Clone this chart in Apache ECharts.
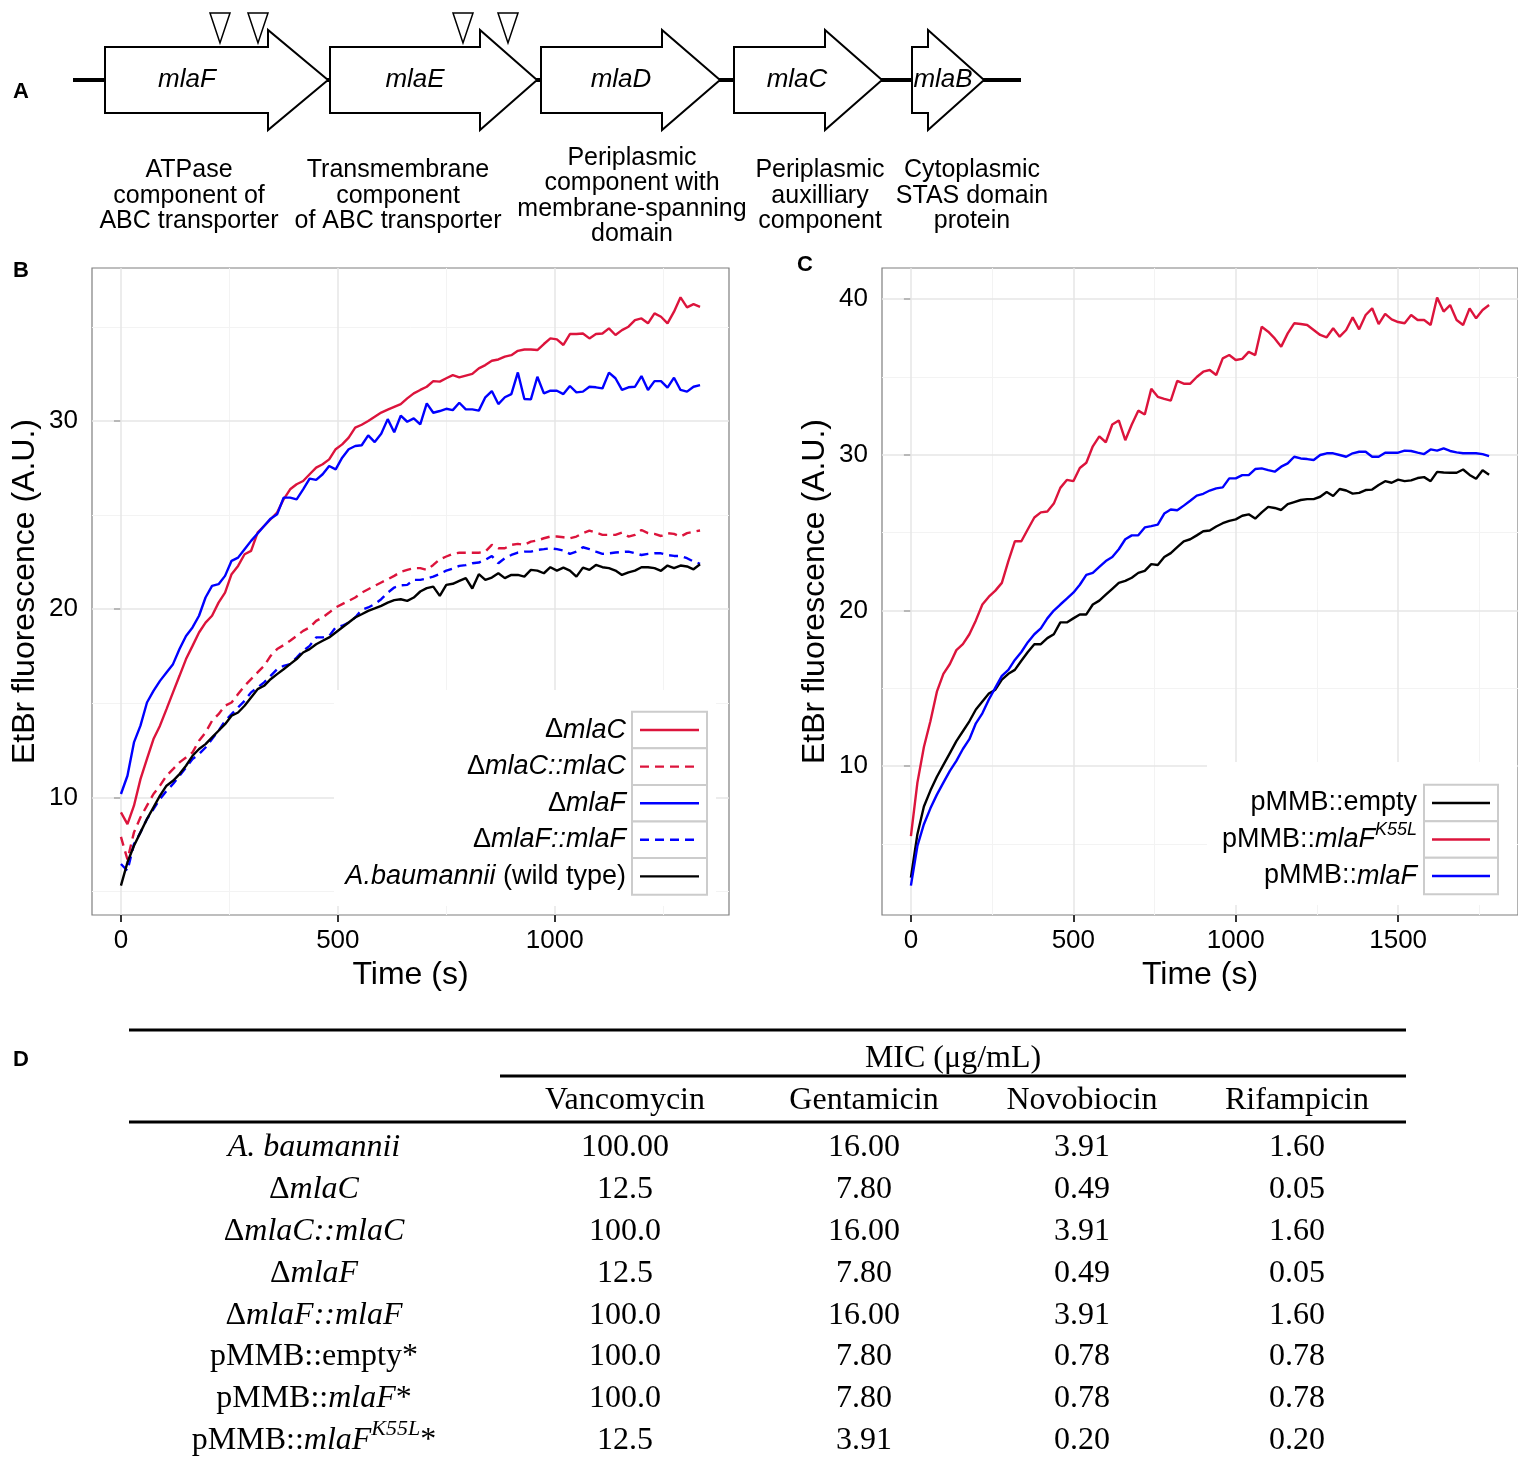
<!DOCTYPE html>
<html>
<head>
<meta charset="utf-8">
<title>mla operon - EtBr accumulation and MIC</title>
<script src="https://cdn.jsdelivr.net/npm/echarts@6/dist/echarts.min.js"></script>
<style>
  html, body { margin: 0; padding: 0; background: #fff; }
  #chart { width: 1518px; height: 1459px; }
</style>
</head>
<body>
<div id="chart"></div>
<script>
// ---------- panel B : deletion mutants (time in s, EtBr fluorescence in A.U.) ----------
const timeB = [0,15,30,45,60,75,90,105,120,135,150,165,180,195,210,225,240,255,270,285,
  300,315,330,345,360,375,390,405,420,435,450,465,480,495,510,525,540,555,570,585,
  600,615,630,645,660,675,690,705,720,735,750,765,780,795,810,825,840,855,870,885,
  900,915,930,945,960,975,990,1005,1020,1035,1050,1065,1080,1095,1110,1125,1140,1155,1170,1185,
  1200,1215,1230,1245,1260,1275,1290,1305,1320,1335];

const mlaC_B = [9.20,8.58,9.56,10.97,12.04,13.10,13.81,14.69,15.58,16.46,
  17.35,18.05,18.76,19.29,19.65,20.35,20.88,21.86,22.30,22.92,
  23.10,24.07,24.42,24.78,25.13,25.84,26.37,26.64,26.81,27.17,
  27.52,27.70,27.96,28.50,28.76,29.12,29.65,29.80,30.00,30.23,
  30.45,30.60,30.75,30.90,31.20,31.47,31.65,31.82,32.12,32.09,
  32.27,32.44,32.32,32.41,32.50,32.80,32.97,33.20,33.27,33.42,
  33.50,33.73,33.80,33.80,33.77,34.09,34.39,34.34,34.04,34.62,
  34.62,34.65,34.39,34.62,34.65,34.92,34.57,34.83,35.01,35.36,
  35.45,35.19,35.72,35.54,35.19,35.81,36.57,36.04,36.21,36.07];

const mlaCcomp_B = [7.90,6.70,8.14,8.94,9.56,10.18,10.62,11.15,11.50,11.86,
  12.12,12.39,13.01,13.45,14.07,14.42,14.87,15.04,15.49,15.93,
  16.28,16.64,16.99,17.52,17.88,18.09,18.32,18.58,18.85,19.03,
  19.38,19.56,19.82,20.09,20.27,20.44,20.62,20.88,21.06,21.24,
  21.42,21.59,21.77,21.98,22.09,22.18,22.18,22.09,22.35,22.65,
  22.80,22.94,23.00,23.00,23.00,23.00,23.06,23.42,23.24,23.24,
  23.42,23.47,23.42,23.59,23.65,23.77,23.86,23.86,23.82,23.77,
  23.86,24.04,24.18,24.07,23.95,23.95,23.95,24.07,23.86,23.95,
  24.21,24.04,24.00,23.89,24.04,24.00,23.86,24.04,24.12,24.18];

const mlaF_B = [10.18,11.15,12.92,13.81,15.04,15.66,16.19,16.64,17.08,17.88,
  18.58,19.03,19.65,20.62,21.24,21.33,21.77,22.57,22.74,23.19,
  23.63,24.02,24.42,24.81,25.04,25.93,25.93,25.84,26.37,26.94,
  26.87,27.17,27.61,27.43,28.05,28.50,28.67,28.71,29.24,28.88,
  29.32,30.10,29.40,30.28,29.96,30.14,29.82,30.94,30.44,30.53,
  30.65,30.58,30.97,30.62,30.62,30.55,31.26,31.59,30.90,31.26,
  31.43,32.58,31.17,31.15,32.35,31.47,31.61,31.61,31.43,31.86,
  31.52,31.56,31.82,31.79,31.73,32.57,32.27,31.65,31.79,31.82,
  32.39,31.65,32.12,32.12,31.77,32.30,31.65,31.56,31.82,31.91];

const mlaFcomp_B = [6.46,6.10,7.52,8.14,8.85,9.38,9.91,10.35,10.71,11.15,
  11.59,12.04,12.30,12.65,13.10,13.54,14.07,14.42,14.78,15.13,
  15.58,15.84,16.11,16.46,16.81,16.99,17.08,17.43,17.79,18.05,
  18.50,18.50,18.58,19.03,19.12,19.29,19.56,19.96,20.09,20.27,
  20.53,20.88,21.15,21.27,21.29,21.56,21.56,21.63,21.73,21.88,
  22.05,22.16,22.30,22.34,22.44,22.48,22.62,22.83,22.44,22.71,
  22.88,23.01,23.06,23.06,23.15,23.19,23.24,23.19,23.12,22.94,
  23.06,23.29,23.19,23.06,22.94,22.97,23.01,23.04,23.06,22.97,
  22.88,22.94,22.97,22.97,22.88,22.83,22.83,22.71,22.53,22.41];

const wild_B = [5.31,6.55,7.43,8.14,8.85,9.47,10.09,10.62,10.88,11.24,
  11.68,12.21,12.57,12.83,13.19,13.54,13.89,14.34,14.51,14.87,
  15.31,15.75,15.93,16.28,16.55,16.81,17.08,17.35,17.70,17.88,
  18.14,18.32,18.50,18.76,19.03,19.29,19.56,19.73,19.91,20.04,
  20.18,20.35,20.48,20.53,20.44,20.62,20.94,21.12,21.20,20.71,
  21.29,21.35,21.50,21.65,21.10,21.86,21.56,21.68,21.91,21.65,
  21.82,21.82,21.73,22.09,22.05,21.91,22.23,22.05,22.21,22.05,
  21.73,22.21,22.09,22.35,22.23,22.18,22.05,21.82,21.96,22.05,
  22.23,22.23,22.18,22.04,22.32,22.18,22.32,22.27,22.12,22.39];

// ---------- panel C : plasmid strains ----------
const timeC = [0,20,40,60,80,100,120,140,160,180,200,220,240,260,280,300,320,340,360,380,
  400,420,440,460,480,500,520,540,560,580,600,620,640,660,680,700,720,740,760,780,
  800,820,840,860,880,900,920,940,960,980,1000,1020,1040,1060,1080,1100,1120,1140,1160,1180,
  1200,1220,1240,1260,1280,1300,1320,1340,1360,1380,1400,1420,1440,1460,1480,1500,1520,1540,1560,1580,
  1600,1620,1640,1660,1680,1700,1720,1740,1760,1780];

const empty_C = [2.84,5.63,7.41,8.43,9.32,10.08,10.84,11.61,12.24,12.88,
  13.64,14.15,14.66,14.91,15.55,15.93,16.18,16.77,17.33,17.83,
  17.83,18.22,18.47,19.23,19.23,19.49,19.74,19.74,20.38,20.63,
  21.01,21.39,21.77,21.90,22.10,22.41,22.54,22.97,22.92,23.43,
  23.68,24.06,24.44,24.57,24.82,25.08,25.13,25.39,25.60,25.75,
  25.85,26.08,26.17,25.90,26.30,26.65,26.58,26.45,26.83,26.96,
  27.09,27.15,27.15,27.30,27.60,27.35,27.80,27.70,27.50,27.55,
  27.73,27.76,28.05,28.30,28.20,28.40,28.30,28.35,28.50,28.56,
  28.30,28.90,28.86,28.84,28.84,29.05,28.70,28.45,29.00,28.72];

const k55l_C = [5.51,8.94,11.23,12.88,14.78,15.93,16.56,17.45,17.83,18.47,
  19.36,20.38,20.88,21.27,21.77,23.17,24.44,24.44,25.21,25.97,
  26.30,26.35,26.86,27.87,28.38,28.30,29.15,29.48,30.54,31.18,
  30.80,31.94,32.20,30.93,31.94,32.83,32.58,34.23,33.72,33.59,
  33.47,34.74,34.56,34.56,34.99,35.33,35.44,35.12,36.19,36.40,
  36.08,36.15,36.60,36.40,38.22,37.90,37.47,36.94,37.79,38.44,
  38.39,38.33,38.01,37.69,37.54,38.12,37.58,38.01,38.82,38.05,
  38.97,39.40,38.39,39.04,38.69,38.52,38.44,38.97,38.65,38.65,
  38.33,40.10,39.19,39.61,38.65,38.33,39.40,38.76,39.29,39.61];

const mlaF_C = [2.33,4.87,6.27,7.29,8.17,8.94,9.70,10.34,11.10,11.73,
  12.75,13.39,14.28,15.04,15.80,16.18,16.82,17.33,17.96,18.47,
  18.85,19.49,19.99,20.38,20.76,21.14,21.65,22.28,22.41,22.79,
  23.17,23.43,23.93,24.57,24.82,24.82,25.33,25.41,25.51,26.22,
  26.48,26.43,26.73,27.04,27.37,27.49,27.70,27.84,27.90,28.48,
  28.48,28.69,28.69,29.08,29.12,29.01,28.91,29.23,29.44,29.87,
  29.76,29.72,29.66,29.98,30.09,30.09,29.98,29.87,30.09,30.19,
  30.19,29.87,29.87,30.13,30.13,30.13,30.26,30.24,30.13,30.04,
  30.34,30.26,30.41,30.24,30.15,30.09,30.09,30.09,30.04,29.91];

// axis ticks / grid values
const ticksBx = [0, 500, 1000], minorBx = [250, 750, 1250];
const ticksBy = [10, 20, 30], minorBy = [5, 15, 25, 35];
const ticksCx = [0, 500, 1000, 1500], minorCx = [250, 750, 1250, 1750];
const ticksCy = [10, 20, 30, 40], minorCy = [5, 15, 25, 35];

// ---------- panel A : operon ----------
const geneNames = ['mlaF', 'mlaE', 'mlaD', 'mlaC', 'mlaB'];
const geneDesc = [
  ['ATPase', 'component of', 'ABC transporter'],
  ['Transmembrane', 'component', 'of ABC transporter'],
  ['Periplasmic', 'component with', 'membrane-spanning', 'domain'],
  ['Periplasmic', 'auxilliary', 'component'],
  ['Cytoplasmic', 'STAS domain', 'protein']
];

// ---------- panel D : MIC table ----------
const micDrugs = ['Vancomycin', 'Gentamicin', 'Novobiocin', 'Rifampicin'];
const micStrains = ['_A. baumannii_', 'Δ_mlaC_', 'Δ_mlaC::mlaC_', 'Δ_mlaF_', 'Δ_mlaF::mlaF_',
  'pMMB::empty*', 'pMMB::_mlaF_*', 'pMMB::_mlaF^K55L^_*'];
const vancomycin = ['100.00', '12.5', '100.0', '12.5', '100.0', '100.0', '100.0', '12.5'];
const gentamicin = ['16.00', '7.80', '16.00', '7.80', '16.00', '7.80', '7.80', '3.91'];
const novobiocin = ['3.91', '0.49', '3.91', '0.49', '3.91', '0.78', '0.78', '0.20'];
const rifampicin = ['1.60', '0.05', '1.60', '0.05', '1.60', '0.78', '0.78', '0.20'];

// ================= layout / style =================
const SANS = '"Liberation Sans", Arial, Helvetica, sans-serif';
const SERIF = '"Liberation Serif", "Times New Roman", serif';
const RED = '#DC143C', BLUE = '#0000FF', BLACK = '#000000';
const DASH = [9, 6];

const seriesB = [
  { name: 'Δ_mlaC_', data: mlaC_B, color: RED, dash: false },
  { name: 'Δ_mlaC::mlaC_', data: mlaCcomp_B, color: RED, dash: true },
  { name: 'Δ_mlaF_', data: mlaF_B, color: BLUE, dash: false },
  { name: 'Δ_mlaF::mlaF_', data: mlaFcomp_B, color: BLUE, dash: true },
  { name: '_A.baumannii_ (wild type)', data: wild_B, color: BLACK, dash: false }
];
const seriesC = [
  { name: 'pMMB::empty', data: empty_C, color: BLACK, dash: false },
  { name: 'pMMB::_mlaF^K55L^_', data: k55l_C, color: RED, dash: false },
  { name: 'pMMB::_mlaF_', data: mlaF_C, color: BLUE, dash: false }
];

const measureCtx = document.createElement('canvas').getContext('2d');
function measure(str, font) { measureCtx.font = font; return measureCtx.measureText(str).width; }

// '_' toggles italic, '^' toggles superscript
function parseMarkup(s) {
  const parts = []; let it = false, sup = false, buf = '';
  for (const ch of s) {
    if (ch === '_' || ch === '^') {
      if (buf) parts.push({ t: buf, it, sup });
      buf = '';
      if (ch === '_') it = !it; else sup = !sup;
    } else buf += ch;
  }
  if (buf) parts.push({ t: buf, it, sup });
  return parts;
}

function textEl(str, x, y, font, align, z) {
  return { type: 'text', silent: true, z: z || 20,
    style: { text: str, x, y, font, fill: '#000', align: align, verticalAlign: 'middle',
      textAlign: align, textVerticalAlign: 'middle' } };
}

function markupText(s, x, y, size, family, align, z) {
  const runs = parseMarkup(s).map(p => {
    const fs = p.sup ? Math.round(size * 0.68) : size;
    const font = (p.it ? 'italic ' : '') + fs + 'px ' + family;
    return { p, font, w: measure(p.t, font) };
  });
  const total = runs.reduce((a, r) => a + r.w, 0);
  let cx = align === 'right' ? x - total : align === 'center' ? x - total / 2 : x;
  return runs.map(r => {
    const el = textEl(r.p.t, cx, r.p.sup ? y - size * 0.36 : y, r.font, 'left', z);
    cx += r.w;
    return el;
  });
}

const graphics = [];

// panel letters
[['A', 21, 92], ['B', 21, 271], ['C', 805, 265], ['D', 21, 1060]].forEach(([t, x, y]) =>
  graphics.push(textEl(t, x, y, 'bold 22px ' + SANS, 'center')));

// ---- A: operon arrows ----
const geneShape = [ // body left, head start, tip, label x, description x
  [105, 268, 328, 187, 189], [330, 480, 537, 415, 398], [541, 662, 720, 621, 632],
  [734, 825, 882, 797, 820], [912, 928, 984, 943, 972]
];
const CY = 80, BODY = 33, HEAD = 50;
graphics.push({ type: 'line', silent: true, z: 5,
  shape: { x1: 73, y1: CY, x2: 1021, y2: CY }, style: { stroke: '#000', lineWidth: 4 } });
geneShape.forEach(([l, h, t, lx, dx], i) => {
  graphics.push({ type: 'polygon', silent: true, z: 6,
    shape: { points: [[l, CY - BODY], [h, CY - BODY], [h, CY - HEAD], [t, CY], [h, CY + HEAD], [h, CY + BODY], [l, CY + BODY]] },
    style: { fill: '#fff', stroke: '#000', lineWidth: 2 } });
  graphics.push(textEl(geneNames[i], lx, CY, 'italic 26px ' + SANS, 'center', 7));
  const lines = geneDesc[i], lh = 25.5, top = 196 - (lines.length - 1) * lh / 2;
  lines.forEach((ln, k) => graphics.push(textEl(ln, dx, top + k * lh, '25px ' + SANS, 'center')));
});
[220, 258, 463, 508].forEach(x => graphics.push({ type: 'polygon', silent: true, z: 8,
  shape: { points: [[x - 10, 13], [x + 10, 13], [x, 43]] },
  style: { fill: '#fff', stroke: '#000', lineWidth: 1.5 } }));

// ---- legends for B and C ----
function buildLegend(list, bg, keyX, keyW, row0, rowStep, labelRight) {
  graphics.push({ type: 'rect', silent: true, z: 10, shape: bg, style: { fill: '#fff' } });
  list.forEach((s, i) => {
    const cy = row0 + i * rowStep;
    graphics.push({ type: 'rect', silent: true, z: 11,
      shape: { x: keyX, y: cy - rowStep / 2, width: keyW, height: rowStep },
      style: { fill: '#fff', stroke: '#cccccc', lineWidth: 2 } });
    graphics.push({ type: 'line', silent: true, z: 12,
      shape: { x1: keyX + 8, y1: cy, x2: keyX + keyW - 8, y2: cy },
      style: { stroke: s.color, lineWidth: 2.4, lineDash: s.dash ? DASH : null } });
    markupText(s.name, labelRight, cy, 27, SANS, 'right', 12).forEach(e => graphics.push(e));
  });
}
buildLegend(seriesB, { x: 334, y: 690, width: 382, height: 216 }, 632, 75, 730, 36.6, 626);
buildLegend(seriesC, { x: 1207, y: 762, width: 310, height: 143 }, 1424, 74, 803, 36.5, 1417);

// ---- D: MIC table ----
const colX = [625, 864, 1082, 1297], rowY0 = 1148, rowStep = 41.8;
[[1030, 129], [1076, 500], [1122, 129]].forEach(([y, x0]) =>
  graphics.push({ type: 'rect', silent: true, z: 5, shape: { x: x0, y: y - 1.5, width: 1406 - x0, height: 3 }, style: { fill: '#000' } }));
graphics.push(textEl('MIC (μg/mL)', 953, 1059, '32px ' + SERIF, 'center'));
micDrugs.forEach((d, j) => graphics.push(textEl(d, colX[j], 1101, '32px ' + SERIF, 'center')));
const micCols = [vancomycin, gentamicin, novobiocin, rifampicin];
micStrains.forEach((s, i) => {
  const y = rowY0 + i * rowStep;
  markupText(s, 314, y, 32, SERIF, 'center', 20).forEach(e => graphics.push(e));
  micCols.forEach((col, j) => graphics.push(textEl(col[i], colX[j], y, '32px ' + SERIF, 'center')));
});

// ================= charts B & C =================
function gridLines(xMajor, xMinor, yMajor, yMinor) {
  const minor = { color: '#f3f3f3', width: 1, type: 'solid' };
  const major = { color: '#e6e6e6', width: 1.5, type: 'solid' };
  return {
    silent: true, z: 1, symbol: ['none', 'none'], label: { show: false }, emphasis: { disabled: true },
    animation: false,
    data: [
      ...xMinor.map(v => ({ xAxis: v, lineStyle: minor })),
      ...yMinor.map(v => ({ yAxis: v, lineStyle: minor })),
      ...xMajor.map(v => ({ xAxis: v, lineStyle: major })),
      ...yMajor.map(v => ({ yAxis: v, lineStyle: major }))
    ]
  };
}

const plainNumber = v => String(v);

function xAxisOpt(idx, min, max, ticks) {
  return {
    type: 'value', gridIndex: idx, min, max,
    axisLine: { show: false },
    axisTick: { show: true, customValues: ticks, length: 7, lineStyle: { color: '#333', width: 2 } },
    axisLabel: { customValues: ticks, formatter: plainNumber, margin: 13, fontSize: 26, color: '#000', fontFamily: SANS },
    splitLine: { show: false },
    name: 'Time (s)', nameLocation: 'middle', nameGap: 44,
    nameTextStyle: { fontSize: 32, color: '#000', fontFamily: SANS }
  };
}
function yAxisOpt(idx, min, max, ticks) {
  return {
    type: 'value', gridIndex: idx, min, max,
    axisLine: { show: false },
    axisTick: { show: true, customValues: ticks, length: 7, lineStyle: { color: '#333', width: 2 } },
    axisLabel: { customValues: ticks, formatter: plainNumber, margin: 14, fontSize: 26, color: '#000', fontFamily: SANS },
    splitLine: { show: false },
    name: 'EtBr fluorescence (A.U.)', nameLocation: 'middle', nameGap: 51,
    nameTextStyle: { fontSize: 32, color: '#000', fontFamily: SANS }
  };
}

function lineSeries(s, time, idx) {
  return {
    type: 'line', xAxisIndex: idx, yAxisIndex: idx, z: 3, silent: true,
    showSymbol: false, symbol: 'none',
    data: time.map((t, k) => [t, s.data[k]]),
    lineStyle: { color: s.color, width: 2.4, type: s.dash ? DASH : 'solid' },
    itemStyle: { color: s.color }
  };
}

const chart = echarts.init(document.getElementById('chart'), null, { renderer: 'canvas' });
chart.setOption({
  animation: false,
  backgroundColor: '#fff',
  textStyle: { fontFamily: SANS },
  grid: [
    { left: 92, top: 268, width: 637, height: 647, show: true, backgroundColor: '#fff', borderColor: '#7f7f7f', borderWidth: 1.2 },
    { left: 882, top: 268, width: 636, height: 647, show: true, backgroundColor: '#fff', borderColor: '#7f7f7f', borderWidth: 1.2 }
  ],
  xAxis: [xAxisOpt(0, -66.75, 1401.75, ticksBx), xAxisOpt(1, -89, 1869, ticksCx)],
  yAxis: [yAxisOpt(0, 3.75, 38.13, ticksBy), yAxisOpt(1, 0.44, 41.99, ticksCy)],
  series: [
    { type: 'line', xAxisIndex: 0, yAxisIndex: 0, data: [], silent: true, markLine: gridLines(ticksBx, minorBx, ticksBy, minorBy) },
    { type: 'line', xAxisIndex: 1, yAxisIndex: 1, data: [], silent: true, markLine: gridLines(ticksCx, minorCx, ticksCy, minorCy) },
    ...seriesB.map(s => lineSeries(s, timeB, 0)),
    ...seriesC.map(s => lineSeries(s, timeC, 1))
  ],
  graphic: { elements: graphics }
});
</script>
</body>
</html>
